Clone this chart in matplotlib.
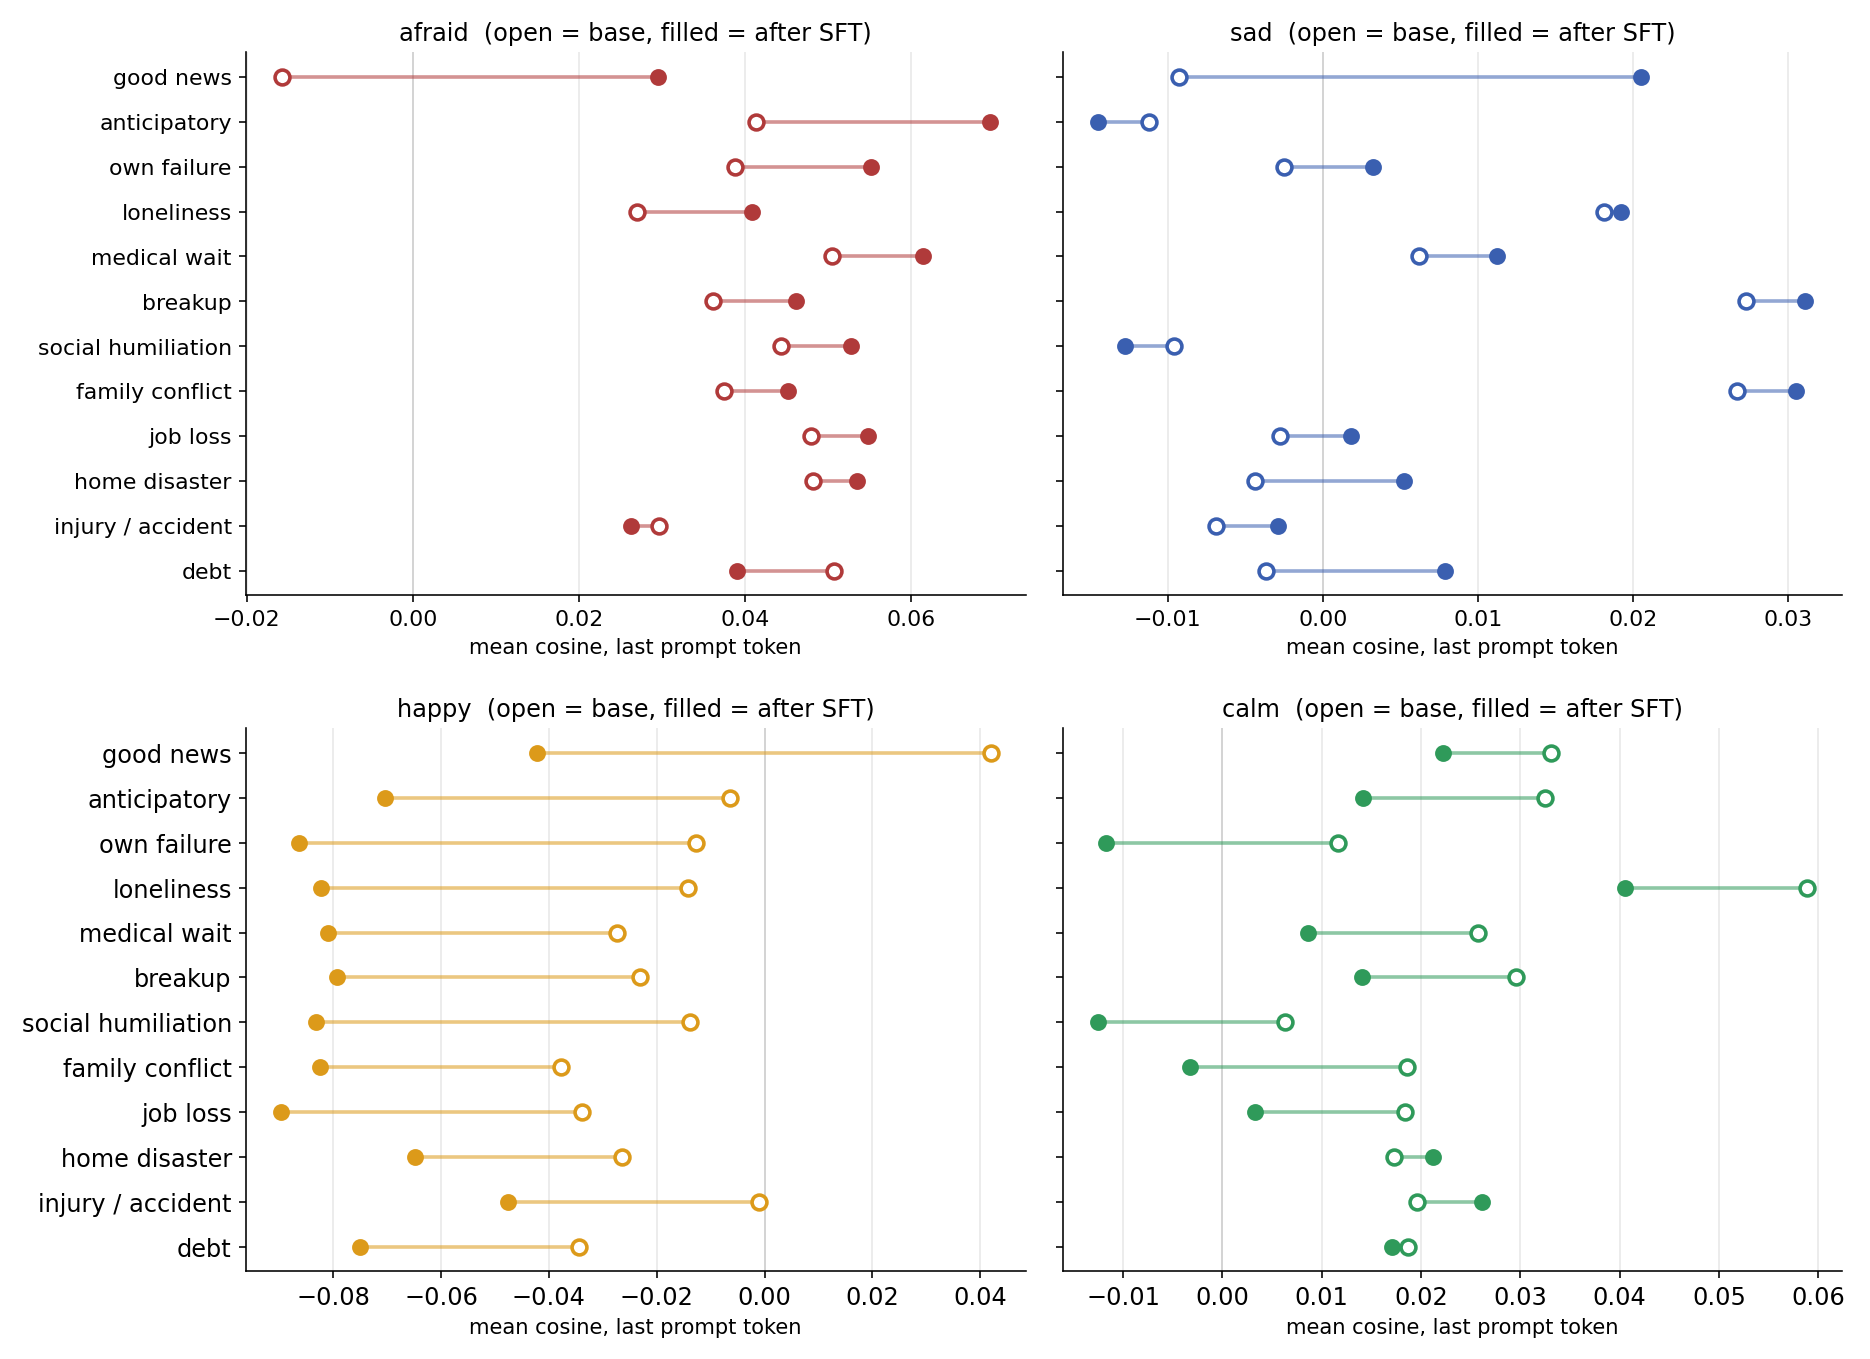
import matplotlib
matplotlib.use("Agg")
import matplotlib.pyplot as plt
import numpy as np

scenarios = ["good news","anticipatory","own failure","loneliness","medical wait","breakup",
             "social humiliation","family conflict","job loss","home disaster","injury / accident","debt"]

afraid_base = [-0.0157,0.0413,0.0388,0.0270,0.0505,0.0362,0.0443,0.0375,0.0480,0.0482,0.0297,0.0507]
afraid_sft  = [0.0295,0.0695,0.0552,0.0408,0.0615,0.0462,0.0528,0.0452,0.0548,0.0535,0.0263,0.0390]
sad_base = [-0.0093,-0.0112,-0.0025,0.0181,0.0062,0.0273,-0.0096,0.0267,-0.0028,-0.0044,-0.0069,-0.0037]
sad_sft  = [0.0205,-0.0145,0.0032,0.0192,0.0112,0.0311,-0.0128,0.0305,0.0018,0.0052,-0.0029,0.0079]
happy_base = [0.0420,-0.0064,-0.0127,-0.0142,-0.0273,-0.0231,-0.0138,-0.0378,-0.0338,-0.0264,-0.0011,-0.0344]
happy_sft  = [-0.0422,-0.0704,-0.0864,-0.0822,-0.0809,-0.0793,-0.0831,-0.0824,-0.0896,-0.0649,-0.0476,-0.0751]
calm_base = [0.0331,0.0325,0.0116,0.0589,0.0257,0.0296,0.0063,0.0186,0.0184,0.0173,0.0196,0.0187]
calm_sft  = [0.0222,0.0142,-0.0117,0.0405,0.0086,0.0140,-0.0125,-0.0033,0.0033,0.0212,0.0261,0.0171]

panels = [("afraid", afraid_base, afraid_sft, "#b03a3a", (-0.0201, 0.0738), 11),
          ("sad", sad_base, sad_sft, "#3a5fb0", (-0.0168, 0.0335), 11),
          ("happy", happy_base, happy_sft, "#dc9a1a", (-0.0962, 0.0484), 12),
          ("calm", calm_base, calm_sft, "#2f9a5a", (-0.0161, 0.0624), 12)]

fig, axes = plt.subplots(2, 2, figsize=(12.99, 9.44), dpi=144)
y = np.arange(len(scenarios))
for ax, (name, base, sft, col, xl, fs) in zip(axes.flat, panels):
    ax.axvline(0, color="#888888", lw=1, zorder=1)
    ax.grid(axis="x", color="#e8e8e8", lw=0.8, zorder=0)
    ax.hlines(y, base, sft, color=col, alpha=0.55, lw=1.8, zorder=2)
    ax.scatter(base, y, s=55, facecolor="white", edgecolor=col, linewidth=1.8, zorder=3)
    ax.scatter(sft, y, s=55, color=col, zorder=3)
    ax.set_yticks(y)
    if name in ("afraid", "happy"):
        ax.set_yticklabels(scenarios, fontsize=fs)
    else:
        ax.set_yticklabels([])
    ax.tick_params(axis="x", labelsize=fs)
    ax.set_ylim(len(scenarios) - 0.45, -0.55)
    ax.set_xlim(*xl)
    ax.set_title(f"{name}  (open = base, filled = after SFT)", fontsize=12)
    ax.set_xlabel("mean cosine, last prompt token", fontsize=10.5)
    ax.spines["top"].set_visible(False)
    ax.spines["right"].set_visible(False)

fig.tight_layout(h_pad=2.0, w_pad=1.5)
fig.savefig("out.png")
